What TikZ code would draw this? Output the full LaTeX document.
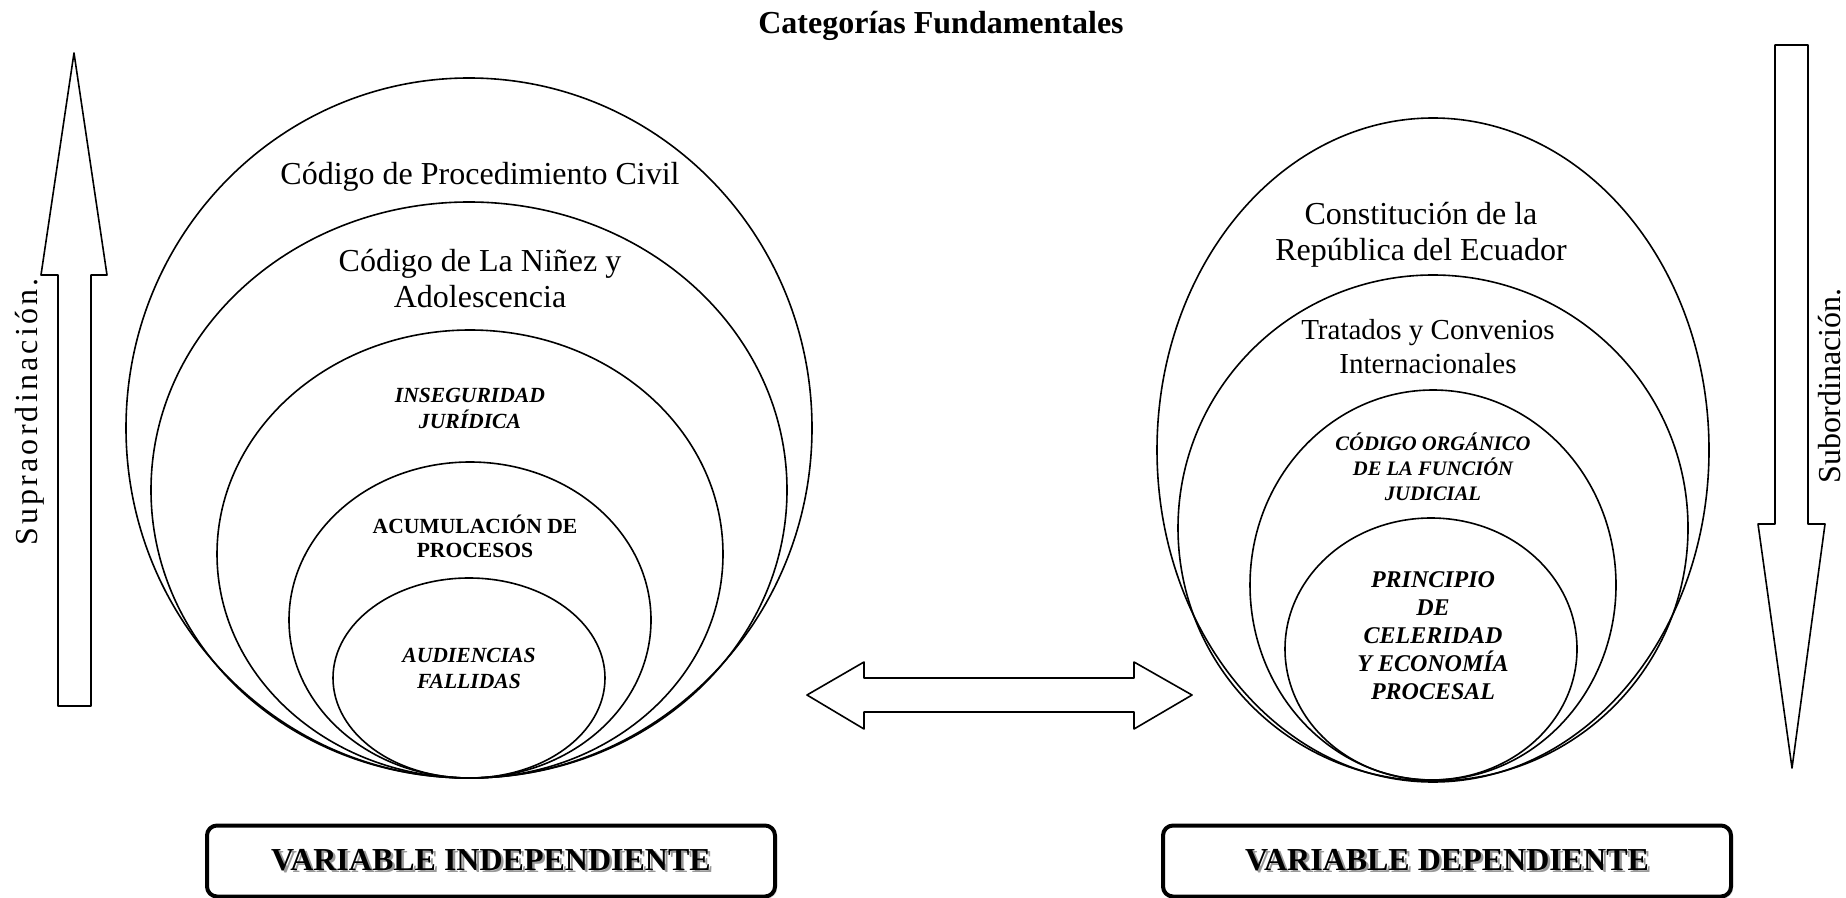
\documentclass[tikz,border=0pt]{standalone}
\usepackage{fontspec}
\setmainfont{Liberation Serif}
\newfontfamily\espaciada[LetterSpace=10]{Liberation Serif}
\usetikzlibrary{shadows}

\newcommand{\sombra}[1]{\makebox[0pt][l]{\hspace{1.3pt}\raisebox{-1.3pt}{\textcolor{black!40}{#1}}}#1}

\tikzset{
  ovalo/.style={line width=0.8pt},
  flecha/.style={line width=0.8pt,fill=white},
  texto/.style={align=center,font=\fontsize{16}{18}\selectfont},
  textob/.style={align=center,font=\fontsize{14.5}{17}\selectfont},
  cat/.style={align=center,font=\bfseries\itshape\fontsize{10.8}{13}\selectfont},
  catr/.style={align=center,font=\bfseries\fontsize{10.8}{12}\selectfont},
  varbox/.style={draw,line width=2pt,rounded corners=5pt,fill=white,minimum width=284pt,minimum height=35.5pt,
    font=\bfseries\fontsize{16}{18}\selectfont,drop shadow={shadow xshift=1pt,shadow yshift=-1pt,opacity=.35}}
}

\begin{document}
\begin{tikzpicture}[line cap=round,line join=round,x=0.5pt,y=-0.5pt]
	\useasboundingbox (0,0) rectangle (1846,898);
	\node[font=\bfseries\fontsize{16}{18}\selectfont] (titulo) at (941,26) {Categorías Fundamentales};
	% flechas laterales
	\draw [flecha] (58,706) -- (58,275) -- (41,275) -- (74,53) -- (107,275) -- (91,275) -- (91,706) -- cycle;
	\node[texto,rotate=90,font=\espaciada\fontsize{16}{18}\selectfont] (supra) at (30,412) {Supraordinación.};
	\draw [flecha] (1775,45) -- (1808,45) -- (1808,524) -- (1825,524) -- (1792,768) -- (1758,524) -- (1775,524) -- cycle;
	\node[texto,rotate=90] (sub) at (1830,386) {Subordinación.};
	% variable independiente
	\draw [ovalo] (469,428) ellipse (343 and 350);
	\draw [ovalo] (469,490) ellipse (318 and 288);
	\draw [ovalo] (470,554) ellipse (253 and 224);
	\draw [ovalo] (470,620) ellipse (181 and 158);
	\draw [ovalo] (469,678) ellipse (136 and 100);
	\node[texto] (cpc) at (480,177) {Código de Procedimiento Civil};
	\node[texto] (cna) at (480,279) {Código de La Niñez y\\Adolescencia};
	\node[cat] (inseg) at (470,408) {INSEGURIDAD\\JURÍDICA};
	\node[catr] (acum) at (475,536) {ACUMULACIÓN DE\\PROCESOS};
	\node[cat] (aud) at (469,668) {AUDIENCIAS\\FALLIDAS};
	% variable dependiente
	\draw [ovalo] (1433,450) ellipse (276 and 332);
	\draw [ovalo] (1433,528) ellipse (255 and 253);
	\draw [ovalo] (1433,585) ellipse (183 and 195);
	\draw [ovalo] (1431,649) ellipse (146 and 131);
	\node[texto] (const) at (1421,235) {Constitución de la\\República del Ecuador};
	\node[textob] (trat) at (1428,347) {Tratados y Convenios\\Internacionales};
	\node[cat,font=\bfseries\itshape\fontsize{10.3}{12.6}\selectfont] (cofj) at (1433,467) {CÓDIGO ORGÁNICO\\DE LA FUNCIÓN\\JUDICIAL};
	\node[cat,font=\bfseries\itshape\fontsize{12}{14}\selectfont] (princ) at (1433,636) {PRINCIPIO\\DE\\CELERIDAD\\Y ECONOMÍA\\PROCESAL};
	% relacion
	\draw [flecha] (807,695) -- (864,662) -- (864,678) -- (1134,678) -- (1134,662) -- (1192,695) -- (1134,729) -- (1134,712) -- (864,712) -- (864,729) -- cycle;
	\node[varbox] (vi) at (491,861) {\sombra{VARIABLE INDEPENDIENTE}};
	\node[varbox] (vd) at (1447,861) {\sombra{VARIABLE DEPENDIENTE}};
\end{tikzpicture}
\end{document}
